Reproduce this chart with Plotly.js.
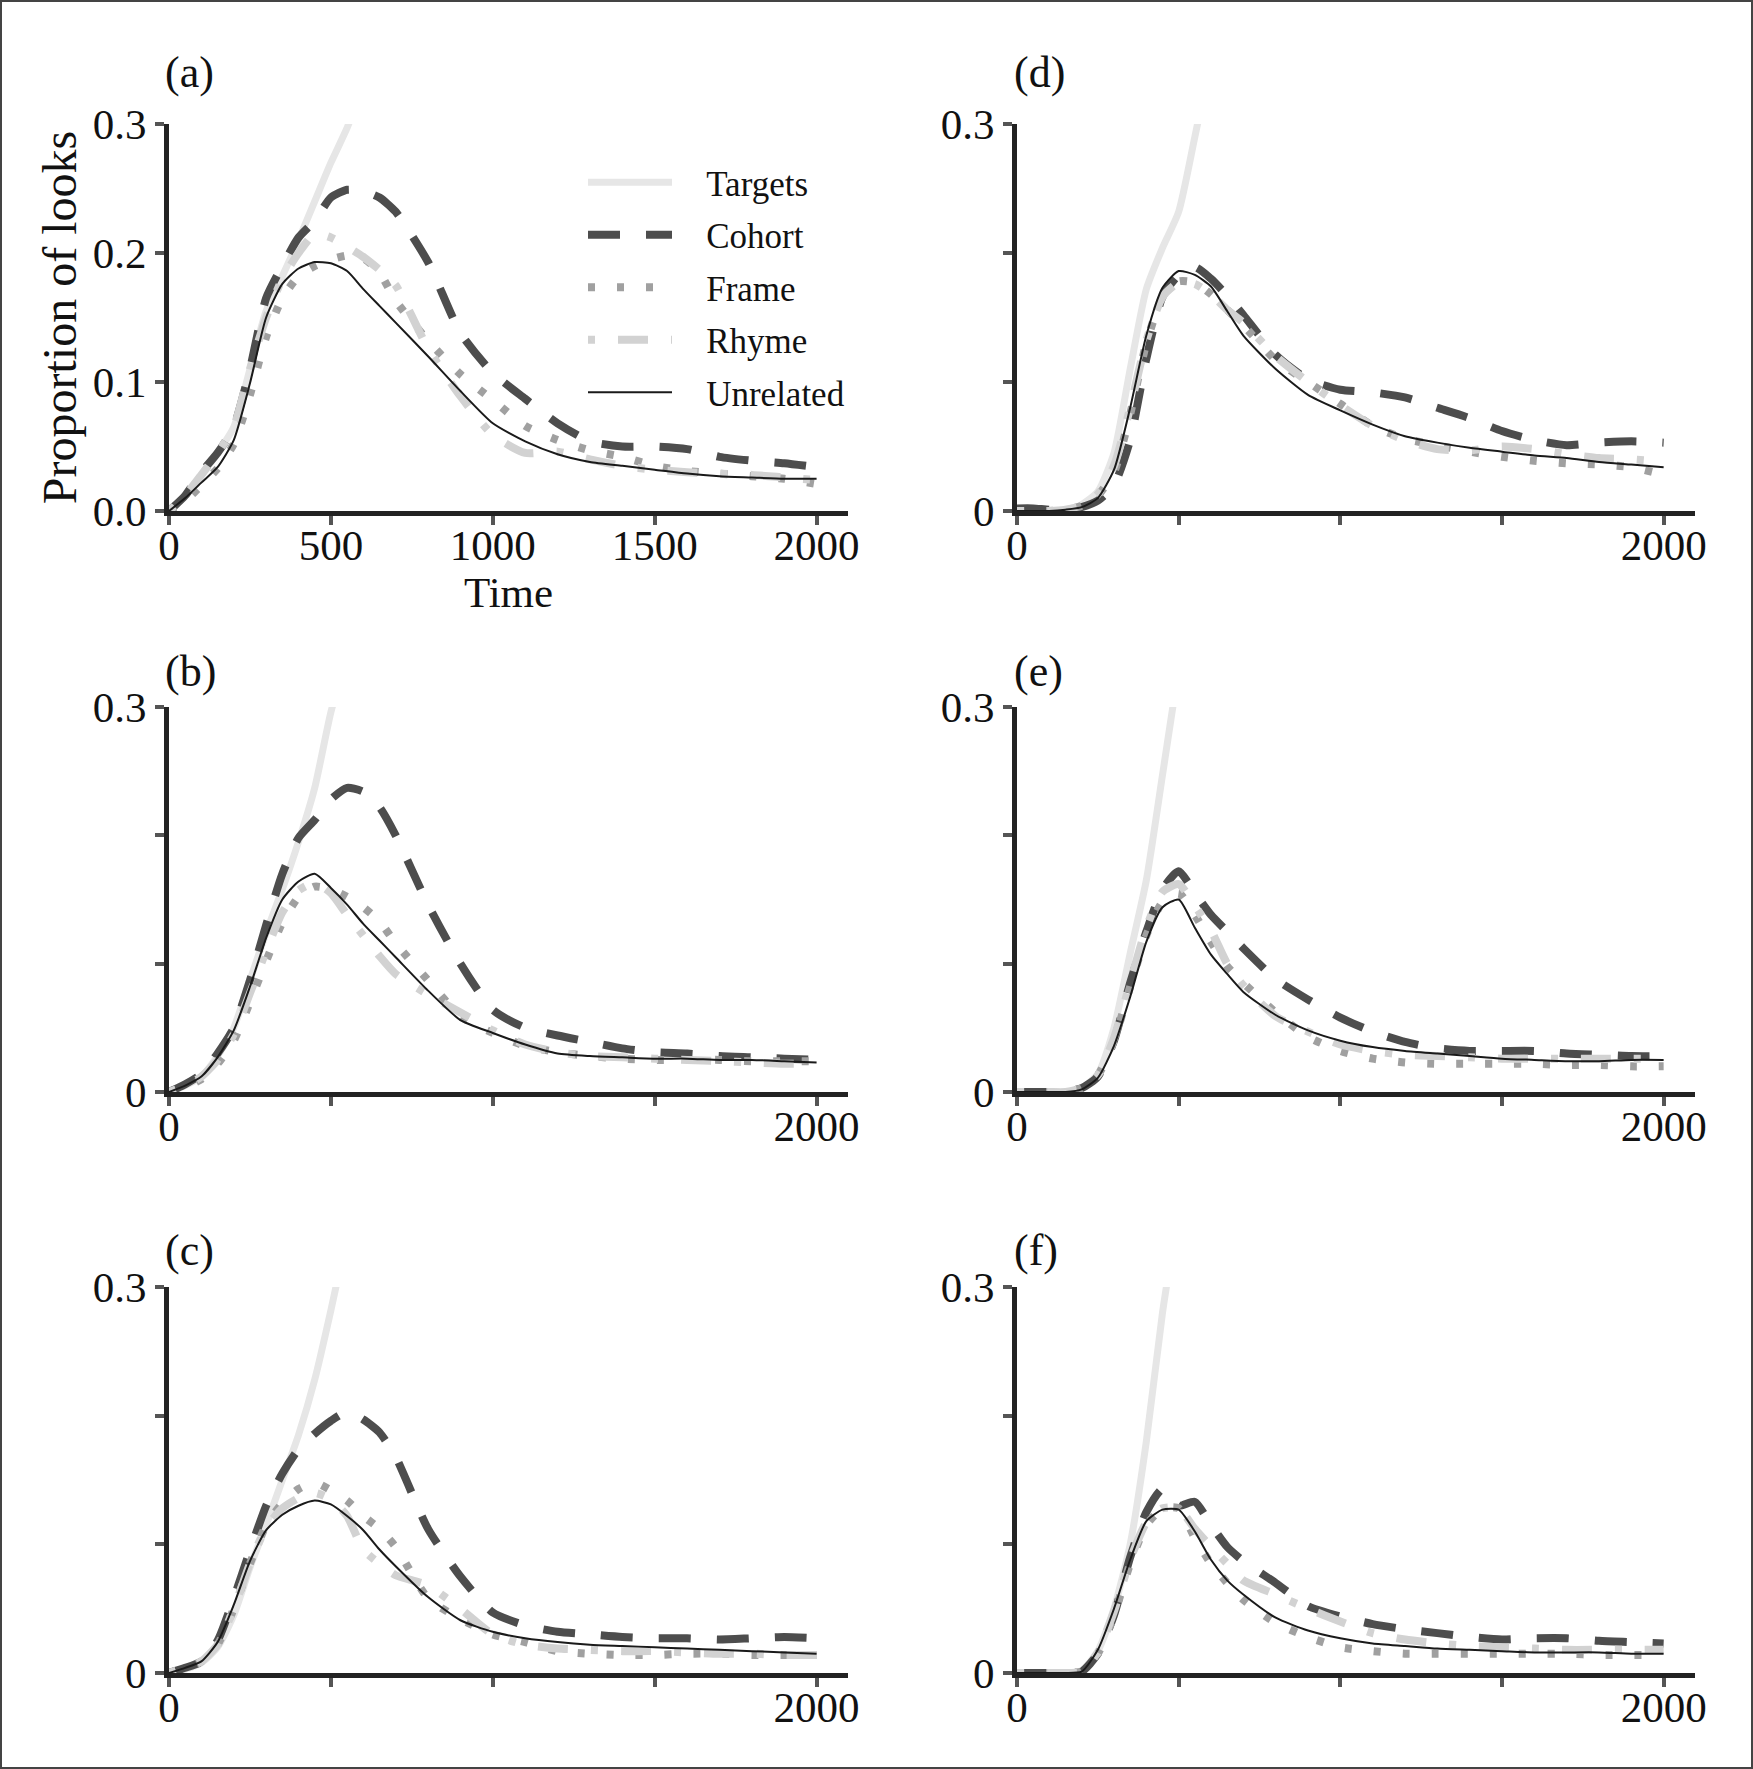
<!DOCTYPE html>
<html>
<head>
<meta charset="utf-8">
<script src="https://cdn.plot.ly/plotly-3.0.1.min.js"></script>
<style>
  html, body { margin: 0; padding: 0; background: #ffffff; }
  #chart { width: 1753px; height: 1769px; }
</style>
</head>
<body>
<div id="chart"></div>
<script>
// ---------- data ----------
const time = [0,50,100,150,200,250,300,350,400,450,500,550,600,650,700,800,900,1000,1100,1200,1300,1400,1500,1600,1700,1800,1900,2000];
const seriesNames = ['Targets','Cohort','Frame','Rhyme','Unrelated'];
const panelLabels = ['(a)','(b)','(c)','(d)','(e)','(f)'];
const xTickVals = [0,500,1000,1500,2000];
const xTickTextFull = ['0','500','1000','1500','2000'];
const xTickTextShort = ['0','','','','2000'];
const yTickVals = [0,0.1,0.2,0.3];
const yTickTextFull = ['0.0','0.1','0.2','0.3'];
const yTickTextShort = ['0','','','0.3'];

// panel (a)
const aTargets   = [0,0.012,0.028,0.045,0.065,0.11,0.155,0.182,0.21,0.24,0.27,0.297,0.33,0.36];
const aCohort    = [0,0.012,0.03,0.045,0.065,0.11,0.165,0.19,0.212,0.225,0.243,0.249,0.248,0.243,0.232,0.193,0.138,0.107,0.087,0.068,0.054,0.050,0.050,0.048,0.042,0.039,0.037,0.034];
const aFrame     = [0,0.008,0.02,0.033,0.052,0.09,0.135,0.165,0.182,0.19,0.195,0.198,0.196,0.185,0.163,0.132,0.106,0.086,0.066,0.055,0.047,0.042,0.035,0.031,0.029,0.027,0.025,0.021];
const aRhyme     = [0,0.012,0.028,0.045,0.065,0.11,0.15,0.18,0.2,0.215,0.212,0.205,0.197,0.187,0.175,0.126,0.089,0.059,0.045,0.046,0.04,0.035,0.032,0.03,0.029,0.028,0.026,0.024];
const aUnrelated = [0,0.010,0.022,0.034,0.055,0.099,0.150,0.176,0.188,0.193,0.192,0.186,0.172,0.159,0.146,0.120,0.093,0.068,0.054,0.044,0.038,0.035,0.032,0.029,0.027,0.026,0.025,0.025];

// panel (b)
const bTargets   = [0,0.005,0.012,0.028,0.05,0.087,0.124,0.158,0.195,0.237,0.296,0.34];
const bCohort    = [0,0.006,0.014,0.03,0.05,0.087,0.13,0.17,0.198,0.212,0.228,0.237,0.234,0.222,0.2,0.146,0.1,0.064,0.05,0.044,0.039,0.034,0.031,0.03,0.028,0.027,0.026,0.025];
const bFrame     = [0,0.004,0.01,0.022,0.04,0.07,0.102,0.132,0.152,0.16,0.158,0.152,0.144,0.133,0.116,0.087,0.059,0.046,0.036,0.031,0.028,0.026,0.025,0.025,0.025,0.024,0.024,0.024];
const bRhyme     = [0,0.005,0.012,0.025,0.045,0.077,0.11,0.14,0.157,0.163,0.155,0.138,0.122,0.106,0.092,0.076,0.062,0.048,0.037,0.031,0.028,0.027,0.026,0.025,0.024,0.023,0.022,0.022];
const bUnrelated = [0,0.005,0.012,0.027,0.048,0.082,0.12,0.15,0.164,0.170,0.159,0.146,0.131,0.118,0.105,0.079,0.056,0.046,0.037,0.030,0.028,0.027,0.026,0.026,0.025,0.025,0.024,0.023];

// panel (c)
const cTargets   = [0,0.003,0.008,0.02,0.045,0.082,0.115,0.15,0.185,0.228,0.282,0.34];
const cCohort    = [0,0.004,0.009,0.025,0.058,0.095,0.13,0.155,0.174,0.186,0.196,0.203,0.197,0.187,0.168,0.112,0.075,0.047,0.037,0.032,0.030,0.028,0.027,0.027,0.026,0.027,0.028,0.027];
const cFrame     = [0,0.004,0.009,0.022,0.05,0.085,0.115,0.132,0.143,0.148,0.142,0.134,0.122,0.112,0.098,0.058,0.042,0.03,0.024,0.017,0.015,0.014,0.014,0.015,0.015,0.014,0.014,0.014];
const cRhyme     = [0,0.004,0.009,0.022,0.05,0.085,0.113,0.128,0.136,0.14,0.135,0.122,0.096,0.085,0.076,0.068,0.05,0.03,0.022,0.019,0.018,0.017,0.017,0.016,0.015,0.015,0.014,0.014];
const cUnrelated = [0,0.004,0.009,0.024,0.053,0.087,0.111,0.123,0.130,0.134,0.131,0.122,0.111,0.096,0.083,0.059,0.041,0.032,0.027,0.024,0.022,0.021,0.020,0.019,0.018,0.017,0.016,0.015];

// panel (d)
const dTargets   = [0,0,0,0.001,0.005,0.015,0.045,0.11,0.172,0.204,0.232,0.29,0.35];
const dCohort    = [0.002,0.002,0.001,0.001,0.003,0.008,0.02,0.055,0.118,0.166,0.183,0.189,0.18,0.167,0.152,0.121,0.102,0.094,0.092,0.088,0.08,0.072,0.062,0.055,0.051,0.053,0.054,0.053];
const dFrame     = [0,0,0,0.001,0.004,0.012,0.03,0.075,0.13,0.166,0.178,0.177,0.168,0.156,0.144,0.117,0.1,0.083,0.066,0.056,0.051,0.046,0.042,0.039,0.037,0.036,0.034,0.028];
const dRhyme     = [0,0,0,0.001,0.004,0.013,0.035,0.08,0.132,0.166,0.177,0.176,0.168,0.156,0.146,0.12,0.1,0.082,0.066,0.055,0.048,0.047,0.05,0.048,0.044,0.041,0.04,0.038];
const dUnrelated = [0,0,0,0.001,0.003,0.01,0.032,0.080,0.136,0.173,0.186,0.183,0.174,0.155,0.136,0.11,0.09,0.078,0.067,0.058,0.053,0.049,0.046,0.043,0.041,0.038,0.036,0.034];

// panel (e)
const eTargets   = [0,0,0,0,0.003,0.014,0.05,0.108,0.165,0.247,0.33];
const eCohort    = [0,0,0,0,0.003,0.012,0.04,0.085,0.125,0.158,0.172,0.155,0.138,0.125,0.112,0.088,0.072,0.058,0.047,0.039,0.034,0.032,0.032,0.032,0.03,0.029,0.028,0.028];
const eFrame     = [0,0,0,0,0.003,0.013,0.04,0.082,0.122,0.148,0.155,0.138,0.117,0.098,0.085,0.062,0.043,0.032,0.026,0.023,0.022,0.022,0.022,0.022,0.021,0.021,0.02,0.02];
const eRhyme     = [0,0,0,0,0.003,0.013,0.042,0.085,0.128,0.156,0.162,0.145,0.126,0.1,0.083,0.059,0.047,0.037,0.032,0.029,0.028,0.027,0.026,0.026,0.026,0.026,0.026,0.026];
const eUnrelated = [0,0,0,0,0.002,0.011,0.036,0.074,0.117,0.144,0.150,0.128,0.107,0.092,0.078,0.06,0.048,0.04,0.035,0.032,0.03,0.028,0.026,0.025,0.024,0.024,0.025,0.025];

// panel (f)
const fTargets   = [0,0,0,0,0.002,0.017,0.05,0.1,0.18,0.28,0.36];
const fCohort    = [0,0,0,0,0.001,0.015,0.045,0.09,0.125,0.143,0.13,0.133,0.115,0.098,0.087,0.07,0.052,0.044,0.038,0.034,0.031,0.028,0.026,0.027,0.027,0.025,0.024,0.023];
const fFrame     = [0,0,0,0,0.001,0.015,0.045,0.085,0.115,0.128,0.128,0.105,0.085,0.07,0.057,0.039,0.028,0.02,0.017,0.015,0.015,0.015,0.015,0.015,0.015,0.014,0.014,0.014];
const fRhyme     = [0,0,0,0,0.001,0.016,0.048,0.088,0.117,0.128,0.128,0.112,0.098,0.085,0.072,0.061,0.05,0.04,0.031,0.026,0.023,0.021,0.02,0.019,0.018,0.018,0.018,0.018];
const fUnrelated = [0,0,0,0,0.001,0.018,0.05,0.088,0.118,0.127,0.127,0.110,0.088,0.072,0.061,0.043,0.033,0.027,0.023,0.021,0.019,0.018,0.017,0.016,0.016,0.016,0.015,0.015];

// ---------- styles ----------
const FONT = 'Liberation Serif, Times New Roman, Times, serif';
const styles = {
  Targets:   {color: '#e6e6e6', width: 7, dash: 'solid'},
  Cohort:    {color: '#4d4d4d', width: 8, dash: '32px,26px'},
  Frame:     {color: '#a0a0a0', width: 8, dash: '7px,22px'},
  Rhyme:     {color: '#d2d2d2', width: 8, dash: '7px,23px,30px,23px'},
  Unrelated: {color: '#1a1a1a', width: 2, dash: 'solid'}
};

const panels = [
  {data: [aTargets,aCohort,aFrame,aRhyme,aUnrelated], xa: 'x',  ya: 'y'},
  {data: [bTargets,bCohort,bFrame,bRhyme,bUnrelated], xa: 'x2', ya: 'y2'},
  {data: [cTargets,cCohort,cFrame,cRhyme,cUnrelated], xa: 'x3', ya: 'y3'},
  {data: [dTargets,dCohort,dFrame,dRhyme,dUnrelated], xa: 'x4', ya: 'y4'},
  {data: [eTargets,eCohort,eFrame,eRhyme,eUnrelated], xa: 'x5', ya: 'y5'},
  {data: [fTargets,fCohort,fFrame,fRhyme,fUnrelated], xa: 'x6', ya: 'y6'}
];

const traces = [];
panels.forEach((p, pi) => {
  p.data.forEach((vals, si) => {
    const name = seriesNames[si];
    const st = styles[name];
    traces.push({
      type: 'scatter', mode: 'lines',
      x: time.slice(0, vals.length), y: vals,
      xaxis: p.xa, yaxis: p.ya,
      // leading spaces only pad the legend text away from its line sample
      name: '\u2002\u2004' + name, legendgroup: name,
      showlegend: pi === 0,
      line: {color: st.color, width: st.width, dash: st.dash, shape: 'spline', smoothing: 0.6},
      hoverinfo: 'skip'
    });
  });
});

// ---------- layout ----------
const W = 1753, H = 1769;
const colDom = [[169/W, 848/W], [1017/W, 1695/W]];
const rowDom = [[1-511/H, 1-124/H], [1-1092/H, 1-707/H], [1-1673/H, 1-1287/H]];
const TICKSIZE = 43;

function xAxis(dom, anchor, full) {
  return {
    domain: dom, anchor: anchor, range: [0, 2097],
    showline: true, linecolor: '#222', linewidth: 5,
    ticks: 'outside', ticklen: 9, tickwidth: 4, tickcolor: '#555',
    showgrid: false, zeroline: false,
    tickmode: 'array', tickvals: xTickVals, ticktext: full ? xTickTextFull : xTickTextShort,
    ticklabelstandoff: -17,
    tickfont: {family: FONT, size: TICKSIZE, color: '#111'}
  };
}
function yAxis(dom, anchor, full) {
  return {
    domain: dom, anchor: anchor, range: [0, 0.3],
    showline: true, linecolor: '#222', linewidth: 5,
    ticks: 'outside', ticklen: 9, tickwidth: 4, tickcolor: '#555',
    showgrid: false, zeroline: false,
    tickmode: 'array', tickvals: yTickVals, ticktext: full ? yTickTextFull : yTickTextShort,
    tickfont: {family: FONT, size: TICKSIZE, color: '#111'}
  };
}

const layout = {
  width: W, height: H,
  margin: {l: 0, r: 0, t: 0, b: 0},
  paper_bgcolor: '#ffffff', plot_bgcolor: '#ffffff',
  font: {family: FONT, color: '#111'},
  showlegend: true,
  legend: {
    x: 583/W, y: 1-153/H, xanchor: 'left', yanchor: 'top',
    font: {family: FONT, size: 35, color: '#111'},
    itemwidth: 84, tracegroupgap: 4, bgcolor: 'rgba(0,0,0,0)',
    traceorder: 'grouped'
  },
  xaxis:  Object.assign(xAxis(colDom[0], 'y', true), {title: {text: 'Time', font: {family: FONT, size: 43}, standoff: 5}}),
  yaxis:  Object.assign(yAxis(rowDom[0], 'x', true), {title: {text: 'Proportion of looks', font: {family: FONT, size: 48}, standoff: 2}}),
  xaxis2: xAxis(colDom[0], 'y2', false), yaxis2: yAxis(rowDom[1], 'x2', false),
  xaxis3: xAxis(colDom[0], 'y3', false), yaxis3: yAxis(rowDom[2], 'x3', false),
  xaxis4: xAxis(colDom[1], 'y4', false), yaxis4: yAxis(rowDom[0], 'x4', false),
  xaxis5: xAxis(colDom[1], 'y5', false), yaxis5: yAxis(rowDom[1], 'x5', false),
  xaxis6: xAxis(colDom[1], 'y6', false), yaxis6: yAxis(rowDom[2], 'x6', false),
  annotations: panelLabels.map((lab, i) => ({
    text: lab, xref: 'paper', yref: 'paper', showarrow: false,
    x: i < 3 ? 163/W : 1012/W, xanchor: 'left',
    y: [1-72/H, 1-672/H, 1-1250/H][i % 3], yanchor: 'middle',
    font: {family: FONT, size: 44, color: '#111'}
  })),
  shapes: [{
    type: 'rect', xref: 'paper', yref: 'paper',
    x0: 1/W, x1: 1-1/W, y0: 1/H, y1: 1-1/H,
    line: {color: '#444', width: 2}
  }]
};

Plotly.newPlot('chart', traces, layout, {staticPlot: true, displayModeBar: false});
</script>
</body>
</html>
